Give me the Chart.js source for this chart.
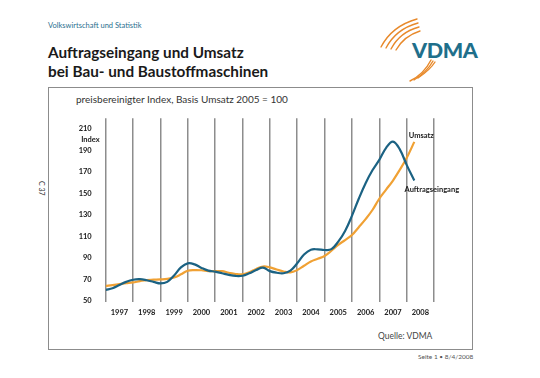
<!DOCTYPE html>
<html>
<head>
<meta charset="utf-8">
<script src="https://cdn.jsdelivr.net/npm/chart.js@4/dist/chart.umd.min.js"></script>
<style>
  html, body { margin:0; padding:0; background:#fff; }
  body { width:540px; height:378px; position:relative; overflow:hidden; font-family: Lato, "Open Sans", sans-serif; }
  .abs { position:absolute; white-space:nowrap; }
  #dept { left:48px; top:21px; font-size:7.5px; color:#2a6f8f; }
  #title { left:48px; top:43px; font-size:15.3px; font-weight:bold; line-height:18.5px; color:#1a1a1a; }
  #frame { left:48px; top:87px; width:425px; height:263px; border:1px solid #8c8c8c; box-sizing:border-box; }
  #subtitle { left:76px; top:93px; font-size:10px; color:#333; }
  #side { font-size:7px; color:#333; transform:rotate(90deg); transform-origin:left top; left:46px; top:181px; }
  #source { left:378px; top:331px; font-size:8.5px; color:#444; }
  #page { left:418px; top:353px; font-size:6.5px; color:#555; }
  #logo { left:412px; top:37px; font-size:21.5px; font-weight:900; color:#1f6f8b; letter-spacing:-0.4px; }
  canvas { position:absolute; left:0; top:0; }
</style>
</head>
<body>
<div id="dept" class="abs">Volkswirtschaft und Statistik</div>
<div id="title" class="abs">Auftragseingang und Umsatz<br>bei Bau- und Baustoffmaschinen</div>
<svg class="abs" style="left:0;top:0" width="540" height="100">
  <g fill="none" stroke="#e8892a" stroke-width="1.4" stroke-linecap="round">
    <path d="M381,47 Q392,26 417,19"/>
    <path d="M386,48 Q396,29 418,23"/>
    <path d="M391,49 Q400,32 419,27"/>
    <path d="M396,50 Q404,36 420,31"/>
    <path d="M410,81 Q424,74 431,60"/>
    <path d="M414,80 Q427,72 433,61"/>
    <path d="M418,78 Q430,70 435,62"/>
  </g>
</svg>
<div id="logo" class="abs">VDMA</div>
<div id="frame" class="abs"></div>
<div id="subtitle" class="abs">preisbereinigter Index, Basis Umsatz 2005 = 100</div>
<div id="side" class="abs">C 37</div>
<div id="source" class="abs">Quelle: VDMA</div>
<div id="page" class="abs">Seite 1 • 8/4/2008</div>
<canvas id="c" width="540" height="378"></canvas>
<script>
// ---- data ----
const periods = [
  1997.0,1997.25,1997.5,1997.75,
  1998.0,1998.25,1998.5,1998.75,
  1999.0,1999.25,1999.5,1999.75,
  2000.0,2000.25,2000.5,2000.75,
  2001.0,2001.25,2001.5,2001.75,
  2002.0,2002.25,2002.5,2002.75,
  2003.0,2003.25,2003.5,2003.75,
  2004.0,2004.25,2004.5,2004.75,
  2005.0,2005.25,2005.5,2005.75,
  2006.0,2006.25,2006.5,2006.75,
  2007.0,2007.25,2007.5,2007.75,
  2008.0,2008.28
];
const auftragseingang = [
  60,61.5,64.5,67.5,
  69.5,70,69,67.5,
  66,67.5,73.5,81,
  84.8,83.8,80.5,78,
  77,75.5,74,73,
  73.2,75.5,78.5,80.7,
  77.5,76,75.5,78,
  84.8,93,97.5,97.8,
  97.2,98,105,115,
  129,145,159.5,171.5,
  181.3,192.5,198.3,191,
  176.6,162
];
const umsatz = [
  63.8,64.5,65.4,66.2,
  67,68.2,69.2,69.5,
  69.8,70.3,71.5,74.5,
  77.9,78.5,78.3,77.5,
  77.5,77.5,76,74.8,
  74.5,76.5,79.5,81.8,
  81,79,77.2,76.3,
  78.5,82.5,86.5,89,
  91.6,96.5,102,106.5,
  111.2,118.5,126,134.5,
  145,153.5,162,172,
  183,198
];
const yearLabels = ['1997','1998','1999','2000','2001','2002','2003','2004','2005','2006','2007','2008'];
const yTicks = [50,70,90,110,130,150,170,190,210];
const seriesNames = ['Auftragseingang','Umsatz'];
const yUnitLabel = 'Index';

const firstYear = parseInt(yearLabels[0]);
const lastYear = parseInt(yearLabels[yearLabels.length-1]) + 1;

const tickFont = { family: 'Lato, "Open Sans", sans-serif', size: 7.5, weight: 'bold' };

const labelPlugin = {
  id: 'labels',
  afterDatasetsDraw(chart) {
    const { ctx, scales: { x, y }, chartArea } = chart;
    ctx.save();
    ctx.fillStyle = '#1a1a1a';
    ctx.font = 'bold 7.5px Lato, "Open Sans", sans-serif';
    ctx.textBaseline = 'middle';
    ctx.textAlign = 'right';
    ctx.fillText(yUnitLabel, chartArea.left - 6, y.getPixelForValue(yTicks[yTicks.length-1]) + 10.5);
    const n = periods.length - 1;
    const xe = x.getPixelForValue(periods[n]);
    ctx.textAlign = 'center';
    ctx.fillText(seriesNames[1], xe + 7, y.getPixelForValue(umsatz[n]) - 6);
    ctx.fillText(seriesNames[0], xe + 17.5, y.getPixelForValue(auftragseingang[n]) + 9);
    ctx.restore();
  }
};

new Chart(document.getElementById('c'), {
  type: 'line',
  data: {
    datasets: [
      {
        label: seriesNames[0],
        data: periods.map((p, i) => ({ x: p, y: auftragseingang[i] })),
        borderColor: '#1b6283',
        borderWidth: 2.2,
        pointRadius: 0,
        tension: 0.4,
        fill: false
      },
      {
        label: seriesNames[1],
        data: periods.map((p, i) => ({ x: p, y: umsatz[i] })),
        borderColor: '#f0a134',
        borderWidth: 2.2,
        pointRadius: 0,
        tension: 0.4,
        fill: false
      }
    ]
  },
  options: {
    responsive: false,
    animation: false,
    devicePixelRatio: 1,
    layout: { padding: { left: 65.7, right: 106, top: 118.3, bottom: 56.3 } },
    plugins: { legend: { display: false }, tooltip: { enabled: false }, title: { display: false } },
    scales: {
      x: {
        type: 'linear',
        min: firstYear,
        max: lastYear,
        afterBuildTicks: (s) => {
          const t = [];
          for (let yv = firstYear; yv <= lastYear; yv++) t.push({ value: yv });
          s.ticks = t;
        },
        afterFit: (s) => { s.height = 20; },
        grid: { color: '#8d8d8d', lineWidth: 1.5, drawTicks: false },
        border: { display: false },
        ticks: {
          autoSkip: false,
          maxRotation: 0,
          minRotation: 0,
          padding: 6,
          labelOffset: 13.7,
          color: '#1a1a1a',
          font: tickFont,
          callback: (v) => { const i = Math.round(v) - firstYear; return yearLabels[i] || ''; }
        }
      },
      y: {
        min: 49,
        max: 220,
        afterBuildTicks: (s) => { s.ticks = yTicks.map(v => ({ value: v })); },
        afterFit: (s) => { s.width = 40; },
        grid: { display: false },
        border: { display: false },
        ticks: { padding: 6, color: '#1a1a1a', font: tickFont }
      }
    }
  },
  plugins: [labelPlugin]
});
</script>
</body>
</html>
